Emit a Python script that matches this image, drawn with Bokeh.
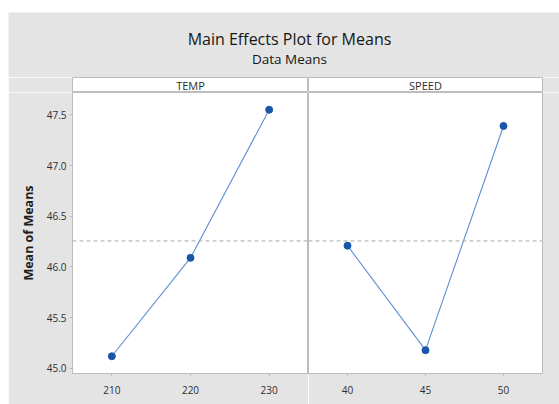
from bokeh.plotting import figure
from bokeh.layouts import column, row
from bokeh.models import Span, Label, Range1d, NumeralTickFormatter
from bokeh.embed import file_html
from bokeh.resources import INLINE

# Factor levels and the mean response at each level
temp_levels = [210, 220, 230]
temp_means = [45.12, 46.09, 47.55]
speed_levels = [40, 45, 50]
speed_means = [46.21, 45.18, 47.39]
y_ticks = [45.0, 45.5, 46.0, 46.5, 47.0, 47.5]

grand_mean = sum(temp_means + speed_means) / len(temp_means + speed_means)

BG = "#e4e4e4"
EDGE = "#bcbcbc"
TEXT = "#2e2e2e"
FONT = "Open Sans"
LINE_BLUE = "#5b8fd2"
DOT_BLUE = "#1a56a8"

Y_RANGE = (44.95, 47.72)


def header():
    h = figure(width=551, height=65, x_range=Range1d(0, 551), y_range=Range1d(0, 65),
               x_axis_location=None, y_axis_location=None,
               min_border_left=0, min_border_right=0, min_border_top=0, min_border_bottom=0,
               background_fill_color=BG, border_fill_color=BG, outline_line_color=None,
               toolbar_location=None, output_backend="svg")
    h.grid.visible = False
    h.add_layout(Label(x=281, y=39, text="Main Effects Plot for Means", text_align="center",
                       text_baseline="middle", text_font=FONT, text_font_size="16px",
                       text_font_style="normal", text_color="#161616"))
    h.add_layout(Label(x=281, y=19, text="Data Means", text_align="center",
                       text_baseline="middle", text_font=FONT, text_font_size="13.5px",
                       text_color="#161616"))
    return h


def strip(text, width, left, right):
    s = figure(width=width, height=15, x_range=Range1d(0, 1), y_range=Range1d(0, 1),
               x_axis_location=None, y_axis_location=None,
               min_border_left=left, min_border_right=right, min_border_top=0, min_border_bottom=0,
               background_fill_color="white", border_fill_color=BG, outline_line_color=EDGE,
               toolbar_location=None, output_backend="svg")
    s.grid.visible = False
    s.add_layout(Label(x=0.5, y=0.5, text=text, text_align="center", text_baseline="middle",
                       text_font=FONT, text_font_size="11px", text_color=TEXT))
    return s


def panel(levels, means, x_range, width, left, right, show_y):
    p = figure(width=width, height=312, x_range=Range1d(*x_range), y_range=Range1d(*Y_RANGE),
               y_axis_location="left" if show_y else None,
               min_border_left=left, min_border_right=right, min_border_top=0, min_border_bottom=31,
               background_fill_color="white", border_fill_color=BG, outline_line_color=EDGE,
               toolbar_location=None, output_backend="svg")
    p.grid.visible = False

    p.add_layout(Span(location=grand_mean, dimension="width", line_color="#a8a8a8",
                      line_dash="4 3", line_width=1))
    p.line(levels, means, line_color=LINE_BLUE, line_width=1.1)
    p.scatter(levels, means, size=7, fill_color=DOT_BLUE, line_color=DOT_BLUE)

    p.xaxis.ticker = levels
    p.xaxis.axis_line_color = EDGE
    p.xaxis.major_tick_line_color = EDGE
    p.xaxis.major_tick_out = 3
    p.xaxis.major_tick_in = 0
    p.xaxis.minor_tick_line_color = None
    p.xaxis.major_label_standoff = 9
    p.xaxis.major_label_text_font = FONT
    p.xaxis.major_label_text_font_size = "10px"
    p.xaxis.major_label_text_color = TEXT

    if show_y:
        p.yaxis.ticker = y_ticks
        p.yaxis.formatter = NumeralTickFormatter(format="0.0")
        p.yaxis.axis_line_color = EDGE
        p.yaxis.major_tick_line_color = EDGE
        p.yaxis.major_tick_out = 3
        p.yaxis.major_tick_in = 0
        p.yaxis.minor_tick_line_color = None
        p.yaxis.major_label_standoff = 3
        p.yaxis.major_label_text_font = FONT
        p.yaxis.major_label_text_font_size = "10px"
        p.yaxis.major_label_text_color = TEXT
        p.yaxis.axis_label = "Mean of Means"
        p.yaxis.axis_label_text_font = FONT
        p.yaxis.axis_label_text_font_size = "12.5px"
        p.yaxis.axis_label_text_font_style = "bold"
        p.yaxis.axis_label_text_color = "#1e1e1e"
        p.yaxis.axis_label_standoff = 7
    return p


left_panel = panel(temp_levels, temp_means, (205, 235), 300, 64, 0, True)
right_panel = panel(speed_levels, speed_means, (37.5, 52.5), 251, 0, 17, False)

layout = column(
    header(),
    row(strip("TEMP", 300, 64, 0), strip("SPEED", 251, 0, 17)),
    row(left_panel, right_panel),
    margin=(12, 0, 0, 8),
)

with open("out.html", "w") as f:
    f.write(file_html(layout, INLINE))
